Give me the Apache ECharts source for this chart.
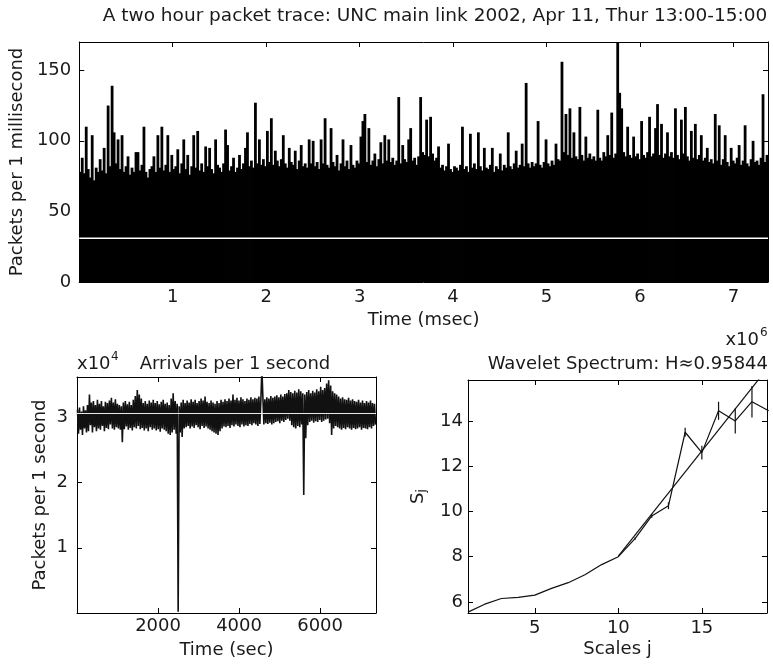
<!DOCTYPE html>
<html><head><meta charset="utf-8">
<script src="https://cdn.jsdelivr.net/npm/echarts@6/dist/echarts.min.js"></script>
<style>html,body{margin:0;padding:0;background:#fff}#c{width:773px;height:667px}</style>
</head><body><div id="c"></div>
<script>
// ---- Top panel: packets per 1 millisecond (binned trace) ----
const traceValues = [
78,88,77,110,80,74,104,72,81,78,
87,79,95,77,125,82,139,106,84,101,
80,104,78,82,89,76,81,78,92,92,
79,83,110,78,74,80,82,89,78,104,
81,110,79,83,104,78,90,80,82,94,
77,84,101,80,90,76,82,104,81,107,
79,84,78,96,82,95,80,77,101,83,
81,78,84,108,97,79,82,88,78,81,
90,80,84,95,106,82,86,81,127,84,
101,83,87,82,107,85,116,83,93,86,
82,87,104,84,81,95,85,83,93,80,
86,97,82,84,81,101,84,100,82,85,
80,101,84,116,83,81,109,85,82,90,
79,84,101,82,86,80,97,83,81,86,
84,103,114,119,85,109,83,86,91,82,
87,99,84,104,86,101,85,88,83,86,
131,84,97,87,85,101,109,86,88,83,
89,131,92,90,115,89,117,91,86,88,
96,81,83,79,82,98,80,78,82,81,
79,83,110,80,82,78,105,81,84,80,
106,82,79,95,81,80,83,95,78,82,
80,91,79,83,81,106,82,80,84,93,
81,83,98,82,141,84,81,85,82,84,
114,83,81,85,101,84,82,86,83,98,
87,86,156,92,119,90,123,88,106,89,
87,124,90,86,103,88,91,87,89,86,
122,88,86,92,89,104,90,120,88,91,
172,134,123,92,89,110,90,88,103,89,
91,87,114,90,88,92,117,89,91,109,
126,90,112,88,91,106,89,92,88,123,
90,87,115,91,124,89,86,107,88,112,
87,90,104,86,88,95,85,87,84,119,
86,111,83,87,104,85,82,95,86,84,
88,97,83,86,111,84,82,87,100,85,
86,83,88,133,85,90
];
const traceEnd = 7.37;          // msec axis extent
const traceMean = 31;
const traceXTicks = [1,2,3,4,5,6,7];
const traceYTicks = [0,50,100,150];

// ---- Bottom-left: arrivals per 1 second (x1e4) ----
const arrivals = [
3.12,2.75,3.15,2.81,3.09,2.73,3.17,2.83,3.11,2.77,
3.19,2.79,3.35,2.88,3.23,2.77,3.25,2.85,3.19,2.79,
3.27,2.83,3.21,2.81,3.25,2.87,3.17,2.79,3.24,2.84,
3.22,2.82,3.26,2.89,3.30,2.83,3.23,2.81,3.28,2.85,
3.21,2.83,3.19,2.81,3.17,2.62,3.23,2.82,3.25,2.86,
3.20,2.81,3.24,2.84,3.19,2.80,3.27,2.85,3.33,2.83,
3.42,2.87,3.35,2.82,3.29,2.84,3.22,2.80,3.25,2.83,
3.21,2.79,3.26,2.85,3.23,2.81,3.27,2.83,3.22,2.80,
3.25,2.82,3.20,2.78,3.24,2.83,3.27,2.81,3.21,2.79,
3.23,2.75,3.19,2.73,3.29,2.77,3.37,2.81,3.25,2.75,
3.21,0.02,3.17,2.77,3.23,2.70,3.27,2.83,3.22,2.85,
3.26,2.87,3.23,2.83,3.28,2.86,3.24,2.84,3.27,2.88,
3.22,2.85,3.25,2.82,3.29,2.87,3.26,2.84,3.32,2.86,
3.24,2.83,3.22,2.81,3.26,2.79,3.23,2.77,3.21,2.75,
3.25,2.73,3.22,2.79,3.27,2.83,3.24,2.86,3.28,2.85,
3.25,2.87,3.29,2.84,3.26,2.88,3.35,2.86,3.27,2.89,
3.30,2.87,3.26,2.85,3.31,2.89,3.28,2.86,3.25,2.88,
3.29,2.87,3.27,2.90,3.31,2.88,3.28,2.91,3.30,2.89,
3.29,2.87,3.32,2.90,3.27,3.75,3.31,2.89,3.28,2.91,
3.31,2.90,3.29,2.92,3.33,2.89,3.30,2.91,3.32,2.93,
3.34,2.94,3.31,2.91,3.35,2.95,3.32,2.93,3.36,2.96,
3.37,2.98,3.42,2.95,3.39,2.88,3.37,2.85,3.41,2.83,
3.38,2.87,3.43,2.85,3.40,2.89,3.37,1.81,3.35,2.68,
3.39,2.88,3.42,2.93,3.37,2.95,3.41,2.92,3.38,2.94,
3.43,2.93,3.40,2.96,3.47,2.93,3.42,2.95,3.45,2.97,
3.52,2.98,3.57,2.91,3.49,2.73,3.40,2.83,3.37,2.87,
3.35,2.85,3.32,2.83,3.29,2.81,3.31,2.84,3.28,2.82,
3.27,2.85,3.30,2.83,3.26,2.81,3.28,2.84,3.25,2.82,
3.24,2.83,3.27,2.85,3.23,2.81,3.26,2.84,3.22,2.83,
3.25,2.82,3.23,2.85,3.26,2.83,3.22,2.87,3.21,2.89
];
const arrivalsEnd = 7380;       // seconds
const arrivalsMean = 3.06;
const arrivalsXTicks = [2000,4000,6000];
const arrivalsYTicks = [1,2,3];

// ---- Bottom-right: wavelet spectrum ----
const scales   = [1,2,3,4,5,6,7,8,9,10,11,12,13,14,15,16,17,18,19];
const spectrum = [5.55,5.9,6.15,6.2,6.3,6.6,6.85,7.2,7.65,8.0,8.8,9.8,10.25,13.5,12.6,14.45,14.0,14.85,14.45];
const spectrumErr = [0,0,0,0,0,0,0,0,0,0,0.05,0.08,0.15,0.2,0.3,0.4,0.55,0.7,0.9];
const fitScales = [10, 18.9];
const fitValues = [8.02, 16.3];
const scaleTicks = [5,10,15];
const spectrumTicks = [6,8,10,12,14];

// ---------------------------------------------------------------
const FONT = 'DejaVu Sans';
const TXT = '#1a1a1a';
const traceBin = traceEnd/traceValues.length;
const traceData = traceValues.map((v,i)=>[(i+0.5)*traceBin, v]);
const arrivalsData = arrivals.map((v,i)=>[(i+0.5)*arrivalsEnd/arrivals.length, v]);
const spectrumData = scales.map((s,i)=>[s, spectrum[i]]);
const errData = scales.map((s,i)=>[s, spectrum[i]-spectrumErr[i], spectrum[i]+spectrumErr[i]]).filter((d,i)=>spectrumErr[i]>0);
const fitData = fitScales.map((s,i)=>[s, fitValues[i]]);

function axisCommon(ticks, showLabel, margin){
  return {
    axisLine:{show:true, onZero:false, lineStyle:{color:'#000', width:1}},
    axisTick:{show:true, inside:true, length:5, customValues:ticks, lineStyle:{color:'#000'}},
    axisLabel:{show:showLabel, customValues:ticks, margin:margin, color:TXT, fontFamily:FONT, fontSize:18,
      formatter:function(v){return String(v);}},
    splitLine:{show:false}
  };
}
function xAx(grid, min, max, ticks, pos, label, name, gap, margin){
  return Object.assign({type:'value', gridIndex:grid, min:min, max:max, position:pos,
    name: name||'', nameLocation:'middle', nameGap:gap||0,
    nameTextStyle:{color:TXT, fontFamily:FONT, fontSize:18}}, axisCommon(ticks, label, margin));
}
function yAx(grid, min, max, ticks, pos, label, name, gap, margin){
  return Object.assign({type:'value', gridIndex:grid, min:min, max:max, position:pos,
    name: name||'', nameLocation:'middle', nameGap:gap||0, nameRotate:90,
    nameTextStyle:{color:TXT, fontFamily:FONT, fontSize:18,
      rich:{s:{fontFamily:FONT, fontSize:18, color:TXT}, sub:{fontFamily:FONT, fontSize:12, color:TXT, verticalAlign:'bottom', padding:[8,0,0,0]}}}},
    axisCommon(ticks, label, margin));
}

const chart = echarts.init(document.getElementById('c'), null, {renderer:'canvas', width:773, height:667});
const option = {
  backgroundColor:'#fff',
  animation:false,
  grid:[
    {left:76, top:42, width:692, height:240},
    {left:77, top:377, width:299, height:236},
    {left:468, top:380, width:299, height:233}
  ],
  xAxis:[
    xAx(0, 0, traceEnd, traceXTicks, 'bottom', true, 'Time (msec)', 29, 6),
    xAx(0, 0, traceEnd, traceXTicks, 'top', false),
    xAx(1, 0, arrivalsEnd, arrivalsXTicks, 'bottom', true, 'Time (sec)', 28, 4),
    xAx(1, 0, arrivalsEnd, arrivalsXTicks, 'top', false),
    xAx(2, 1, 18.9, scaleTicks, 'bottom', true, 'Scales j', 27, 6),
    xAx(2, 1, 18.9, scaleTicks, 'top', false)
  ],
  yAxis:[
    yAx(0, 0, 170, traceYTicks, 'left', true, 'Packets per 1 millisecond', 47, 8),
    yAx(0, 0, 170, traceYTicks, 'right', false),
    yAx(1, 0, 3.62, arrivalsYTicks, 'left', true, 'Packets per 1 second', 28, 9),
    yAx(1, 0, 3.62, arrivalsYTicks, 'right', false),
    yAx(2, 5.51, 15.81, spectrumTicks, 'left', true, '{s|S}{sub|j}', 40, 5),
    yAx(2, 5.51, 15.81, spectrumTicks, 'right', false)
  ],
  series:[
    {type:'custom', xAxisIndex:0, yAxisIndex:0, data:traceData, clip:true, z:2,
     renderItem:function(params, api){
       const x = api.value(0), v = api.value(1);
       const p0 = api.coord([x - traceBin/2, 0]);
       const p1 = api.coord([x + traceBin/2, v]);
       return {type:'rect', shape:{x:p0[0]-0.4, y:p1[1], width:(p1[0]-p0[0]) + 0.8, height:p0[1]-p1[1]},
               style:{fill:'#000'}};
     }},
    {type:'line', xAxisIndex:0, yAxisIndex:0, data:[[0,traceMean],[traceEnd,traceMean]], symbol:'none',
     lineStyle:{color:'#fff', width:1.5}, z:3},
    {type:'line', xAxisIndex:2, yAxisIndex:2, data:arrivalsData, symbol:'none',
     lineStyle:{color:'#111', width:1.6}, clip:true, z:2},
    {type:'line', xAxisIndex:2, yAxisIndex:2, data:[[0,arrivalsMean],[arrivalsEnd,arrivalsMean]], symbol:'none',
     lineStyle:{color:'#e8e8e8', width:1.2}, z:3},
    {type:'line', xAxisIndex:4, yAxisIndex:4, data:spectrumData, symbol:'none',
     lineStyle:{color:'#111', width:1.2}, clip:true, z:2},
    {type:'line', xAxisIndex:4, yAxisIndex:4, data:fitData, symbol:'none',
     lineStyle:{color:'#111', width:1.2}, clip:true, z:2},
    {type:'custom', xAxisIndex:4, yAxisIndex:4, data:errData, clip:true, z:3,
     renderItem:function(params, api){
       const p1 = api.coord([api.value(0), api.value(1)]);
       const p2 = api.coord([api.value(0), api.value(2)]);
       return {type:'line', shape:{x1:p1[0], y1:p1[1], x2:p2[0], y2:p2[1]}, style:{stroke:'#111', lineWidth:1.2}};
     }}
  ],
  graphic:[
    {type:'text', x:435, y:16, style:{text:'A two hour packet trace: UNC main link 2002, Apr 11, Thur 13:00-15:00', fill:TXT, font:'18.5px "DejaVu Sans"', textAlign:'center', textVerticalAlign:'middle', align:'center', verticalAlign:'middle'}},
    {type:'text', x:77, y:364, style:{text:'x10', fill:TXT, font:'18px "DejaVu Sans"', textAlign:'left', textVerticalAlign:'middle', align:'left', verticalAlign:'middle'}},
    {type:'text', x:111, y:357, style:{text:'4', fill:TXT, font:'12px "DejaVu Sans"', textAlign:'left', textVerticalAlign:'middle', align:'left', verticalAlign:'middle'}},
    {type:'text', x:235, y:364, style:{text:'Arrivals per 1 second', fill:TXT, font:'18px "DejaVu Sans"', textAlign:'center', textVerticalAlign:'middle', align:'center', verticalAlign:'middle'}},
    {type:'text', x:759, y:340, style:{text:'x10', fill:TXT, font:'18px "DejaVu Sans"', textAlign:'right', textVerticalAlign:'middle', align:'right', verticalAlign:'middle'}},
    {type:'text', x:760, y:333, style:{text:'6', fill:TXT, font:'12px "DejaVu Sans"', textAlign:'left', textVerticalAlign:'middle', align:'left', verticalAlign:'middle'}},
    {type:'text', x:768, y:364, style:{text:'Wavelet Spectrum: H\u22480.95844', fill:TXT, font:'18px "DejaVu Sans"', textAlign:'right', textVerticalAlign:'middle', align:'right', verticalAlign:'middle'}}
  ]
};
chart.setOption(option);
</script>
</body></html>
